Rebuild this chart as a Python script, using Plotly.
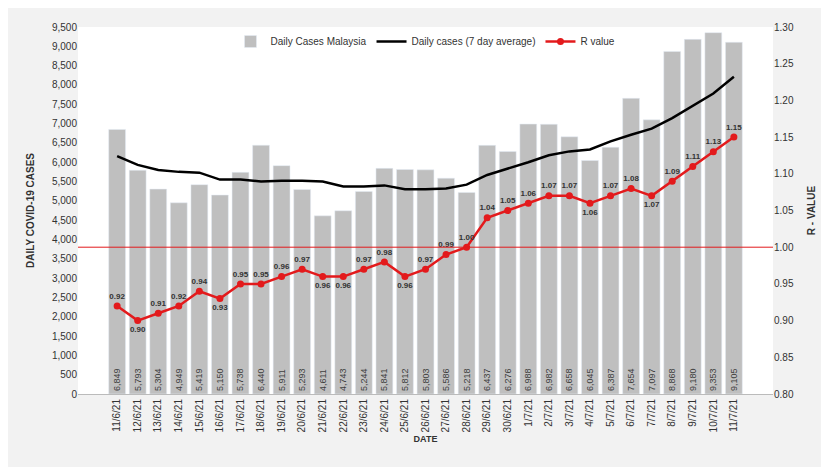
import plotly.graph_objects as go

dates = ["11/6/21","12/6/21","13/6/21","14/6/21","15/6/21","16/6/21","17/6/21","18/6/21","19/6/21","20/6/21",
         "21/6/21","22/6/21","23/6/21","24/6/21","25/6/21","26/6/21","27/6/21","28/6/21","29/6/21","30/6/21",
         "1/7/21","2/7/21","3/7/21","4/7/21","5/7/21","6/7/21","7/7/21","8/7/21","9/7/21","10/7/21","11/7/21"]
cases = [6849,5793,5304,4949,5419,5150,5738,6440,5911,5293,4611,4743,5244,5841,5812,5803,5586,5218,6437,6276,
         6988,6982,6658,6045,6387,7654,7097,8868,9180,9353,9105]
avg7 = [6160,5930,5800,5750,5730,5550,5550,5500,5520,5520,5500,5370,5370,5400,5300,5300,5320,5420,5670,5830,
        6000,6180,6280,6330,6540,6710,6870,7140,7450,7780,8210]
rval = [0.92,0.90,0.91,0.92,0.94,0.93,0.95,0.95,0.96,0.97,0.96,0.96,0.97,0.98,0.96,0.97,0.99,1.00,1.04,1.05,
        1.06,1.07,1.07,1.06,1.07,1.08,1.07,1.09,1.11,1.13,1.15]

fig = go.Figure()
fig.add_bar(x=dates, y=cases, name="Daily Cases Malaysia", marker_color="#bfbfbf",
            text=[f"{v:,}" for v in cases], textposition="inside", insidetextanchor="start",
            textangle=-90, textfont=dict(size=9, color="#404040"))
fig.add_shape(type="line", xref="paper", x0=0, x1=1, yref="y2", y0=1.0, y1=1.0,
              line=dict(color="#e31a1c", width=1), layer="above")
fig.add_scatter(x=dates, y=avg7, name="Daily cases (7 day average)", mode="lines",
                line=dict(color="black", width=2.5))
fig.add_scatter(x=dates, y=rval, name="R value", yaxis="y2", mode="lines+markers+text",
                line=dict(color="#e31a1c", width=2.5), marker=dict(size=7, color="#e31a1c"),
                text=[f"<b>{v:.2f}</b>" for v in rval],
                textposition=["bottom center" if i in (1,5,10,11,14,23,26) else "top center" for i in range(len(rval))],
                textfont=dict(size=8, color="#333"))

fig.update_layout(
    width=829, height=467, paper_bgcolor="#f2f2f2", plot_bgcolor="white",
    margin=dict(l=70, r=64, t=19, b=81),
    font=dict(family="Liberation Sans, Arial", size=10, color="#333"),
    bargap=0.18, showlegend=True,
    legend=dict(orientation="h", x=0.5, xanchor="center", y=1.0, yanchor="top",
                bgcolor="rgba(0,0,0,0)", font=dict(size=10)),
    xaxis=dict(title=dict(text="<b>DATE</b>", font=dict(size=9), standoff=4), tickangle=-90,
               tickfont=dict(size=10), showline=True, linecolor="#bbb"),
    yaxis=dict(title=dict(text="<b>DAILY COVID-19 CASES</b>", font=dict(size=10)), range=[0, 9500], dtick=500,
               tickformat=",", showgrid=False, tickfont=dict(size=10)),
    yaxis2=dict(title=dict(text="<b>R - VALUE</b>", font=dict(size=10)), overlaying="y", side="right",
                range=[0.8, 1.3], dtick=0.05, tickformat=".2f", showgrid=False, tickfont=dict(size=10)),
)
fig.write_html("out.html")
